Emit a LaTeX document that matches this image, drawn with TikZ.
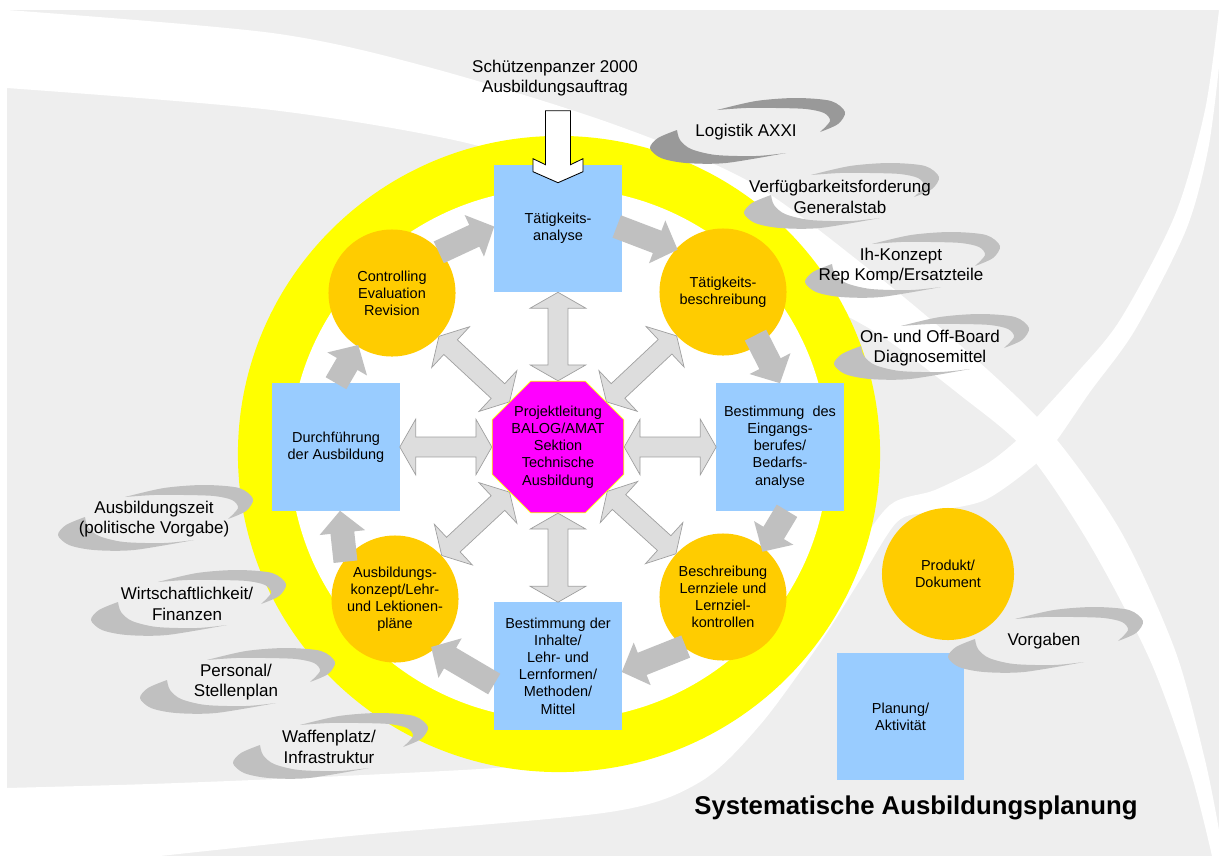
\documentclass[tikz,border=0pt]{standalone}
\usepackage{fontspec}
\setmainfont{Liberation Sans}
\usetikzlibrary{shapes.geometric,calc}
\pgfdeclarelayer{front}
\pgfsetlayers{main,front}

\definecolor{bggrey}{HTML}{EEEEEE}
\definecolor{boxblue}{HTML}{99CCFF}
\definecolor{discorange}{HTML}{FFCC00}
\definecolor{ringyellow}{HTML}{FFFF00}
\definecolor{hubmagenta}{HTML}{FF00FF}
\definecolor{arrowgrey}{HTML}{C0C0C0}
\definecolor{spokegrey}{HTML}{DDDDDD}
\definecolor{spokeedge}{HTML}{A0A0A0}
\definecolor{swooshgrey}{HTML}{C0C0C0}
\definecolor{swooshdark}{HTML}{999999}

\newcommand\boxfont{\fontsize{10.3}{12.2}\selectfont}
\newcommand\notefont{\fontsize{12.1}{14.5}\selectfont}
\newcommand\bannerfont{\fontsize{18.3}{22}\selectfont\bfseries}

\tikzset{
  box/.style={rectangle, fill=boxblue, minimum width=3.175cm, minimum height=3.175cm,
    inner sep=0pt, align=center, font=\boxfont},
  disc/.style={circle, fill=discorange, minimum size=3.175cm, inner sep=0pt,
    align=center, font=\boxfont},
  hubnode/.style={regular polygon, regular polygon sides=8, fill=hubmagenta, draw=ringyellow,
    line width=0.5pt, minimum size=3.44cm, inner sep=0pt, align=center, font=\boxfont},
  note/.style={align=center, font=\notefont, inner sep=0pt},
  flowarrow/.style={fill=arrowgrey},
  spokearrow/.style={fill=spokegrey, draw=spokeedge, line width=0.5pt},
  pics/swoosh/.style={code={
    \fill[#1] plot[smooth] coordinates {(-29,22) (10,31) (50,34) (85,31) (99,20) (92,8) (74,0)}
      -- plot[smooth] coordinates {(74,0) (84,11) (78,19) (60,23) (30,24) (0,24) (-29,22)} -- cycle;
    \fill[#1] plot[smooth] coordinates {(-69,2) (-88,-6) (-96,-16) (-85,-26) (-60,-31) (-20,-31) (40,-21)}
      -- plot[smooth] coordinates {(40,-21) (10,-24) (-30,-23) (-55,-17) (-66,-8) (-69,2)} -- cycle;
  }},
}

% block arrow of the cycle, from #1 to #2
\newcommand\cyclearrow[2]{%
  \path (#1); \pgfgetlastxy{\fax}{\fay}
  \path (#2); \pgfgetlastxy{\fbx}{\fby}
  \pgfmathsetmacro\fang{atan2((\fby)-(\fay),(\fbx)-(\fax))}
  \pgfmathsetmacro\flen{veclen((\fbx)-(\fax),(\fby)-(\fay))}
  \pgfmathsetmacro\fneck{\flen-15.6}
  \fill[flowarrow, shift={(\fax,\fay)}, rotate=\fang]
    (0pt,-8.5pt) -- (\fneck pt,-8.5pt) -- (\fneck pt,-16.3pt) -- (\flen pt,0pt)
    -- (\fneck pt,16.3pt) -- (\fneck pt,8.5pt) -- (0pt,8.5pt) -- cycle;
}

% double arrow between the hub and node #1
\newcommand\hubspoke[1]{%
  \path (hub.center); \pgfgetlastxy{\sax}{\say}
  \path (#1.center); \pgfgetlastxy{\sbx}{\sby}
  \pgfmathsetmacro\sang{atan2((\sby)-(\say),(\sbx)-(\sax))}
  \pgfmathsetmacro\sback{\sang+180}
  \path (hub.\sang); \pgfgetlastxy{\sax}{\say}
  \path (#1.\sback); \pgfgetlastxy{\sbx}{\sby}
  \pgfmathsetmacro\slen{veclen((\sbx)-(\sax),(\sby)-(\say))}
  \pgfmathsetmacro\sneck{\slen-11.3}
  \filldraw[spokearrow, shift={(\sax,\say)}, rotate=\sang]
    (0pt,0pt) -- (11.3pt,19.8pt) -- (11.3pt,7.1pt) -- (\sneck pt,7.1pt) -- (\sneck pt,19.8pt)
    -- (\slen pt,0pt) -- (\sneck pt,-19.8pt) -- (\sneck pt,-7.1pt) -- (11.3pt,-7.1pt)
    -- (11.3pt,-19.8pt) -- cycle;
}

\begin{document}
\begin{tikzpicture}[x=0.025cm, y=0.025cm]
\useasboundingbox (0,0) rectangle (1219,-856);
\fill[white] (0,0) rectangle (1219,-856);

% grey ground with two crossing white bands
\fill[bggrey] (7,-10) rectangle (1219,-856);
\fill[white] plot[smooth] coordinates {(7,-10) (272,-33) (428,-67) (610,-123) (750,-182) (870,-270)
    (960,-345) (1047,-428) (1120,-530) (1175,-650) (1205,-760) (1219,-830)}
  -- (1219,-856) -- (1212,-856)
  -- plot[smooth] coordinates {(1212,-856) (1190,-770) (1150,-660) (1090,-545) (1027,-452) (960,-395)
    (880,-335) (800,-290) (700,-222) (600,-188) (467,-143) (272,-110) (7,-88)} -- cycle;
\fill[white] plot[smooth] coordinates {(1219,-10) (1205,-110) (1175,-215) (1120,-320) (1075,-375)
    (1037,-417) (1017,-440) (985,-465) (935,-490) (890,-505) (850,-560) (800,-640) (760,-690)
    (650,-745) (560,-762) (480,-769) (300,-778) (150,-784) (7,-788)}
  -- (7,-856) -- (160,-856)
  -- plot[smooth] coordinates {(160,-856) (350,-836) (610,-812) (700,-782) (760,-725) (820,-643)
    (860,-580) (897,-522) (930,-512) (985,-500) (1037,-463) (1057,-440) (1090,-392) (1135,-330)
    (1186,-230) (1208,-150) (1219,-67)} -- cycle;

% yellow ring
\fill[ringyellow] (559,-454) ellipse [x radius=8.025cm, y radius=7.95cm];
\fill[white] (559,-454) ellipse [x radius=6.725cm, y radius=6.65cm];

\node[box] (ana) at (558,-228.5) {Tätigkeits-\\analyse};
\node[disc] (desc) at (723,-292) {Tätigkeits-\\beschreibung};
\node[box] (entry) at (780,-447) {Bestimmung~ des\\Eingangs-\\berufes/\\Bedarfs-\\analyse};
\node[disc] (goals) at (723,-597) {Beschreibung\\Lernziele und\\Lernziel-\\kontrollen};
\node[box] (inh) at (558,-666) {Bestimmung der\\Inhalte/\\Lehr- und\\Lernformen/\\Methoden/\\Mittel};
\node[disc] (conc) at (395,-599) {Ausbildungs-\\konzept/Lehr-\\und Lektionen-\\pläne};
\node[box] (exec) at (336,-447) {Durchführung\\der Ausbildung};
\node[disc] (ctrl) at (392,-293) {Controlling\\Evaluation\\Revision};
\begin{pgfonlayer}{front}
\node[hubnode] (hub) at (558,-447) {Projektleitung\\BALOG/AMAT\\Sektion\\Technische\\Ausbildung};
\end{pgfonlayer}

\node[disc, minimum size=3.3cm] (prod) at (948,-574) {Produkt/\\Dokument};
\node[box] (plan) at (900.5,-716.5) {Planung/\\Aktivität};

% side conditions
\pic at (746,-132) {swoosh=swooshdark};
\node[note] (logistics) at (746,-132) {Logistik AXXI};
\pic at (840,-197) {swoosh=swooshgrey};
\node[note] (staff) at (840,-197) {Verfügbarkeitsforderung\\Generalstab};
\pic at (901,-266) {swoosh=swooshgrey};
\node[note] (maint) at (901,-266) {Ih-Konzept\\Rep Komp/Ersatzteile};
\pic at (930,-348) {swoosh=swooshgrey};
\node[note] (diag) at (930,-348) {On- und Off-Board\\Diagnosemittel};
\pic at (154,-519) {swoosh=swooshgrey};
\node[note] (time) at (154,-519) {Ausbildungszeit\\(politische Vorgabe)};
\pic at (187,-604) {swoosh=swooshgrey};
\node[note] (econ) at (187,-604) {Wirtschaftlichkeit/\\Finanzen};
\pic at (236,-682) {swoosh=swooshgrey};
\node[note] (posts) at (236,-682) {Personal/\\Stellenplan};
\pic at (329,-747) {swoosh=swooshgrey};
\node[note] (site) at (329,-747) {Waffenplatz/\\Infrastruktur};
\pic at (1044,-641) {swoosh=swooshgrey};
\node[note] (rules) at (1044,-641) {Vorgaben};

\node[note] (order) at (555,-78) {Schützenpanzer 2000\\Ausbildungsauftrag};
\filldraw[fill=white, draw=black, line width=0.6pt, shift={(ana.north)}]
  (-12.5,54) -- (12.5,54) -- (12.5,0) -- (25,6) -- (25,-7) -- (0,-18) -- (-25,-7)
  -- (-25,6) -- (-12.5,0) -- cycle;

% planning cycle
\cyclearrow{$(ctrl)+(41:62)$}{$(ana.west)+(0,2)$}
\cyclearrow{$(ana.east)+(-5,2)$}{$(desc)+(137:62)$}
\cyclearrow{$(desc)+(-53:54)$}{entry.north}
\cyclearrow{$(entry.south)+(7,0)$}{$(goals)+(49:60)$}
\cyclearrow{$(goals)+(233:62)$}{$(inh.east)+(0,-6)$}
\cyclearrow{$(inh.west)+(0,-18)$}{$(conc)+(-53:60)$}
\cyclearrow{$(conc)+(143:62)$}{$(exec.south)+(4,0)$}
\cyclearrow{exec.north}{$(ctrl)+(237:62)$}

\foreach \n in {ana,desc,entry,goals,inh,conc,exec,ctrl} {\hubspoke{\n}}

\node[font=\bannerfont] (heading) at (916,-808) {Systematische Ausbildungsplanung};
\end{tikzpicture}
\end{document}
